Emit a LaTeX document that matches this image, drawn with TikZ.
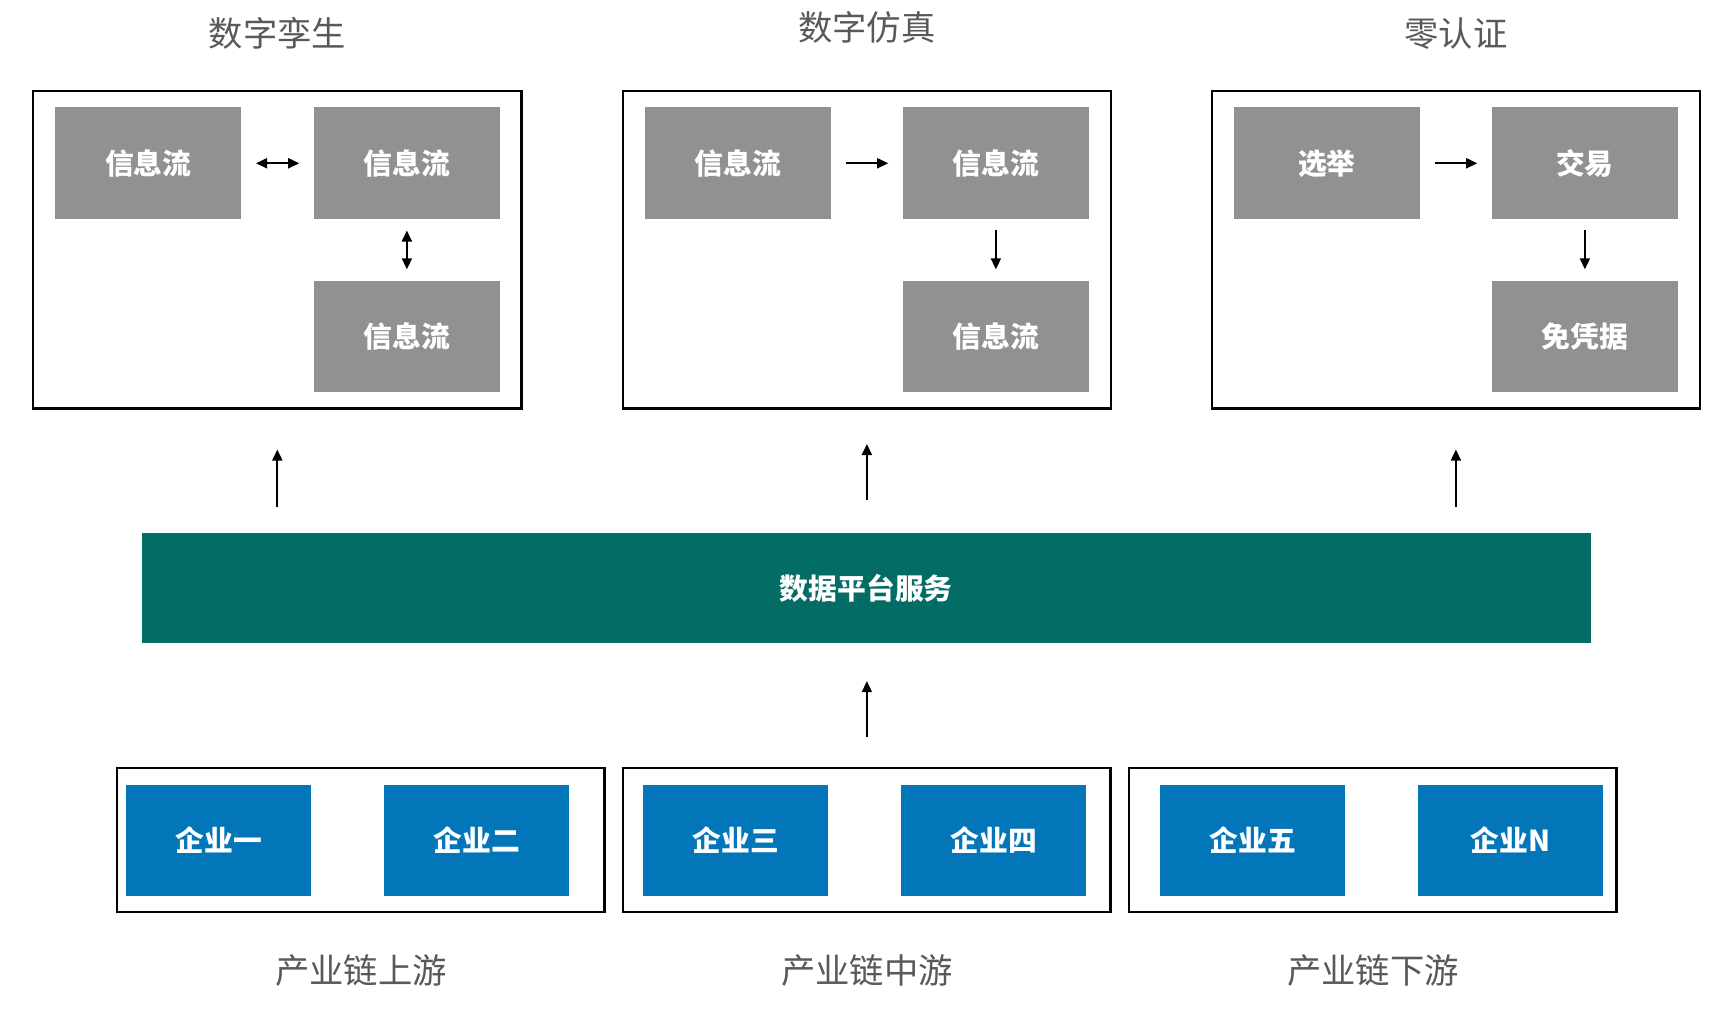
\documentclass[tikz,border=0pt]{standalone}
\usepackage{fontspec}
\setmainfont{Noto Sans CJK SC}
\usetikzlibrary{arrows.meta}
\definecolor{flowgray}{HTML}{919191}
\definecolor{platgreen}{HTML}{036C65}
\definecolor{firmblue}{HTML}{0376BA}
\definecolor{labelgray}{HTML}{595959}
\begin{document}
\begin{tikzpicture}[x=1pt, y=1pt,
  group/.style={draw=black, line width=2pt, minimum width=441pt, minimum height=287pt, inner sep=0pt},
  rowgroup/.style={draw=black, line width=2pt, minimum width=440pt, minimum height=130pt, inner sep=0pt},
  flow/.style={fill=flowgray, text=white, font=\fontsize{26}{30}\selectfont\bfseries, minimum width=168pt, minimum height=101pt, inner sep=0pt},
  firm/.style={fill=firmblue, text=white, font=\fontsize{26}{30}\selectfont\bfseries, minimum width=167pt, minimum height=100pt, inner sep=0pt},
  platform/.style={fill=platgreen, text=white, font=\fontsize{26}{30}\selectfont\bfseries, minimum width=1309pt, minimum height=100pt, inner sep=0pt},
  caption/.style={text=labelgray, font=\fontsize{31}{36}\selectfont, inner sep=0pt},
  link/.style={-{Triangle[length=10pt,width=9pt]}, line width=1.8pt},
  twoway/.style={{Triangle[length=10pt,width=9pt]}-{Triangle[length=10pt,width=9pt]}, line width=1.8pt},
]
\useasboundingbox (0,0) rectangle (1568,923);

\node[group] (g1) at (250.5,697.5) {};
\node[group] (g2) at (783,697.5) {};
\node[group] (g3) at (1315,697.5) {};
\node[caption] (t1) at (250.5,893) {数字孪生};
\node[caption] (t2) at (783,898) {数字仿真};
\node[caption] (t3) at (1315,893) {零认证};

\node[flow] (a1) at (134,775.5) {信息流};
\node[flow] (b1) at (367.5,775.5) {信息流};
\node[flow] (c1) at (367.5,619) {信息流};
\node[flow] (a2) at (666.5,775.5) {信息流};
\node[flow] (b2) at (899.5,775.5) {信息流};
\node[flow] (c2) at (899.5,619) {信息流};
\node[flow] (a3) at (1198.5,775.5) {选举};
\node[flow] (b3) at (1431.5,775.5) {交易};
\node[flow] (c3) at (1431.5,619) {免凭据};

\draw[twoway, shorten <=13pt, shorten >=13pt] (a1) -- (b1);
\draw[twoway, shorten <=10pt, shorten >=10pt] (b1) -- (c1);
\draw[link, shorten <=13pt, shorten >=13pt] (a2) -- (b2);
\draw[link, shorten <=10pt, shorten >=10pt] (b2) -- (c2);
\draw[link, shorten <=13pt, shorten >=13pt] (a3) -- (b3);
\draw[link, shorten <=10pt, shorten >=10pt] (b3) -- (c3);

\node[platform] (pf) at (782.5,392) {数据平台服务};
\draw[link, shorten <=23pt, shorten >=36pt] (pf.north -| g1.south) -- (g1.south);
\draw[link, shorten <=29pt, shorten >=31pt] (pf.north -| g2.south) -- (g2.south);
\draw[link, shorten <=23pt, shorten >=36pt] (pf.north -| g3.south) -- (g3.south);

\node[rowgroup] (up) at (326,164) {};
\node[rowgroup] (mid) at (783,164) {};
\node[rowgroup] (down) at (1240,164) {};
\node[firm] (f1) at (197.5,164) {企业一};
\node[firm] (f2) at (430.5,164) {企业二};
\node[firm] (f3) at (664.5,164) {企业三};
\node[firm] (f4) at (897.5,164) {企业四};
\node[firm] (f5) at (1131.5,164) {企业五};
\node[firm] (f6) at (1364.5,164) {企业N};
\node[caption] (l1) at (326,46) {产业链上游};
\node[caption] (l2) at (783,46) {产业链中游};
\node[caption] (l3) at (1240,46) {产业链下游};

\draw[link, shorten <=27pt, shorten >=34pt] (mid.north) -- (pf.south -| mid.north);
\end{tikzpicture}
\end{document}
